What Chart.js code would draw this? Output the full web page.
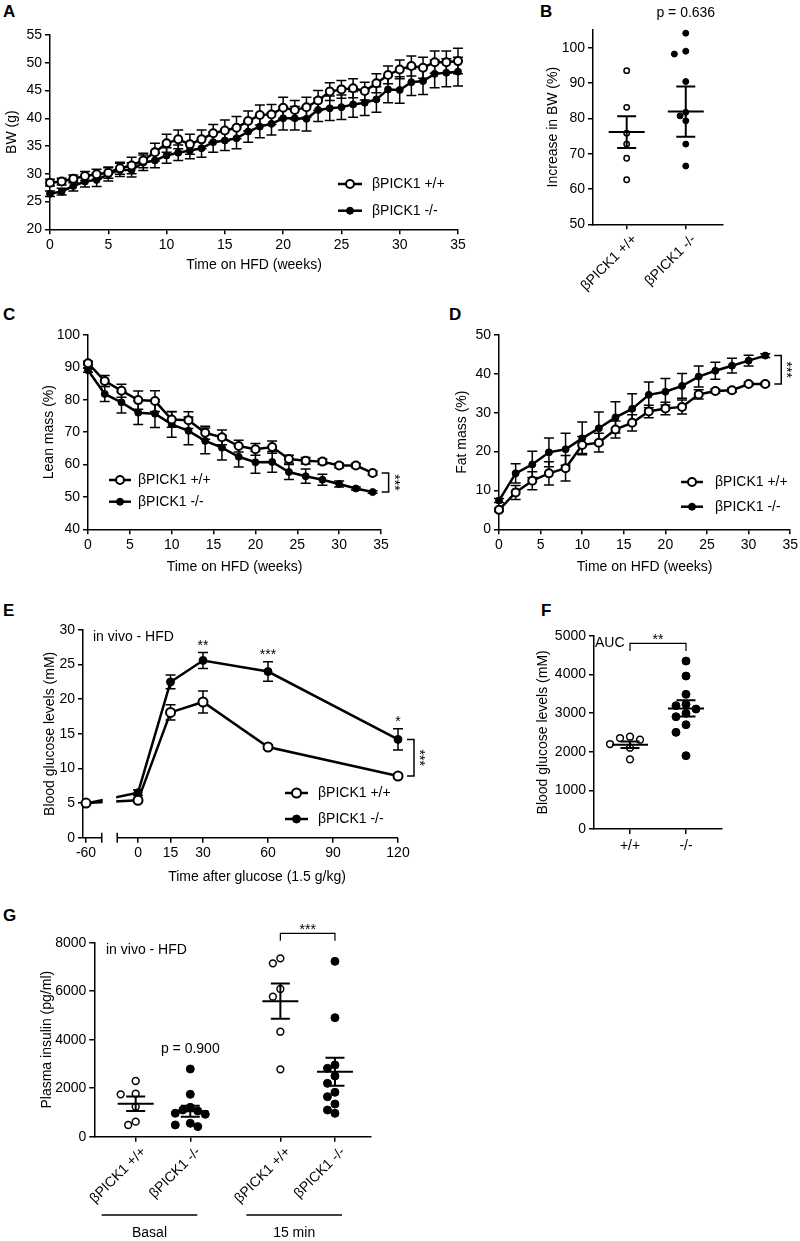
<!DOCTYPE html>
<html>
<head>
<meta charset="utf-8">
<script src="https://cdn.jsdelivr.net/npm/chart.js@4.4.1/dist/chart.umd.min.js"></script>
<style>
  body { margin: 0; width: 800px; height: 1241px; position: relative; overflow: hidden; background: #fff;
         font-family: "Liberation Sans", Arial, sans-serif; }
  canvas { position: absolute; }
  .tag { position: absolute; font-weight: bold; font-size: 17px; line-height: 1; }
</style>
</head>
<body>
<div class="tag" style="left:3px;top:3px">A</div>
<div class="tag" style="left:540px;top:3px">B</div>
<div class="tag" style="left:3px;top:306px">C</div>
<div class="tag" style="left:449px;top:306px">D</div>
<div class="tag" style="left:3px;top:602px">E</div>
<div class="tag" style="left:541px;top:602px">F</div>
<div class="tag" style="left:3px;top:907px">G</div>
<script>
/* ---------- data ---------- */
const WT = "βPICK1 +/+";
const KO = "βPICK1 -/-";

// A: body weight
const weeksA = [0,1,2,3,4,5,6,7,8,9,10,11,12,13,14,15,16,17,18,19,20,21,22,23,24,25,26,27,28,29,30,31,32,33,34,35];
const bwWT = [28.4,28.6,29.1,29.6,29.9,30.2,31.0,31.5,32.4,33.9,35.5,36.2,35.3,36.2,37.3,37.8,38.3,39.5,40.6,40.7,41.9,41.5,42.0,43.2,44.8,45.2,45.4,44.9,46.3,47.8,48.8,49.4,49.1,50.1,50.1,50.3];
const bwWTsem = [0.6,0.6,0.7,0.8,0.9,1.0,1.1,1.5,1.3,1.6,1.6,1.7,1.8,1.7,1.6,1.9,2.0,1.8,1.8,1.8,1.9,1.7,1.8,1.8,1.6,1.6,1.7,1.6,1.7,1.6,1.7,1.8,1.9,2.0,2.0,2.3];
const bwKO = [26.4,26.8,27.8,28.6,28.9,29.9,30.7,30.7,32.0,32.4,33.3,33.8,34.2,34.6,35.7,36.0,36.4,37.6,38.5,39.0,40.0,40.0,39.9,41.5,41.8,42.0,42.5,42.8,43.4,45.2,45.1,46.5,46.7,48.0,48.2,48.4];
const bwKOsem = [0.5,0.6,0.9,1.0,1.2,1.2,1.2,1.3,1.4,1.3,1.4,1.4,1.5,1.6,1.8,1.8,1.9,1.9,2.0,2.0,2.1,2.1,2.2,2.1,2.2,2.2,2.3,2.3,2.3,2.4,2.4,2.4,2.4,2.5,2.5,2.6];
const ticksA_x = [0,5,10,15,20,25,30,35];
const ticksA_y = [20,25,30,35,40,45,50,55];

// B: increase in BW (dots, then mean and SEM as drawn)
const incWT = [93.5,83.1,75.8,72.7,68.7,62.6];
const incKO = [104.1,99.0,98.2,90.4,81.7,80.7,79.3,72.7,66.5];
const incMean = [76.1,81.9];
const incSem = [4.5,7.1];
const ticksB_y = [50,60,70,80,90,100];

// C: lean mass
const weeksC = [0,2,4,6,8,10,12,14,16,18,20,22,24,26,28,30,32,34];
const leanWT = [91.3,85.8,82.8,79.9,79.6,73.9,73.7,69.8,68.4,65.7,64.7,65.4,61.7,61.2,60.9,59.7,59.7,57.4];
const leanWTsem = [0.6,1.7,2.0,2.8,3.2,2.4,2.6,2.0,2.3,1.8,1.8,1.9,1.2,1.0,0.8,0.7,0.6,0.6];
const leanKO = [89.1,81.8,79.2,76.0,75.7,72.4,70.4,67.3,65.2,62.4,60.7,60.8,57.7,56.4,55.3,54.0,52.6,51.5];
const leanKOsem = [0.6,2.3,3.3,3.6,4.3,4.0,4.3,4.0,3.8,3.2,3.4,3.2,2.3,2.2,1.7,0.9,0.5,0.4];
const ticksC_y = [40,50,60,70,80,90,100];

// D: fat mass
const weeksD = [0,2,4,6,8,10,12,14,16,18,20,22,24,26,28,30,32];
const fatWT = [5.0,9.5,12.5,14.4,15.7,21.7,22.3,25.7,27.4,30.3,31.1,31.5,34.7,35.6,35.8,37.4,37.4];
const fatWTsem = [0.4,1.8,2.3,3.0,3.3,2.2,2.4,2.2,2.1,1.6,1.6,1.8,1.2,0.5,0.5,0.4,0.4];
const fatKO = [7.4,14.4,16.7,19.8,20.6,23.4,26.0,28.8,31.0,34.6,35.4,36.9,39.3,40.8,42.1,43.4,44.7];
const fatKOsem = [0.5,2.5,3.4,3.7,4.1,4.2,4.2,4.0,3.9,3.3,3.4,3.2,2.7,2.2,1.9,1.4,0.5];
const ticksD_y = [0,10,20,30,40,50];

// E: glucose tolerance
const timesE = [-60,0,15,30,60,120];
const gluWT = [5.0,5.4,18.1,19.6,13.1,8.9];
const gluWTsem = [0.2,0.3,1.1,1.6,0.3,0.3];
const gluKO = [4.95,6.5,22.5,25.6,24.0,14.2];
const gluKOsem = [0.2,0.4,1.0,1.15,1.4,1.55];
const starsE = ["","","","**","***","*"];
const ticksE_x = [-60,0,15,30,60,90,120];
const ticksE_y = [0,5,10,15,20,25,30];

// F: AUC
const aucWT = [2387,2353,2310,2198,2103,1802];
const aucKO = [4344,3957,3483,3224,3189,3103,2992,2904,2697,2500,1896];
const aucMean = [2180,3120];
const aucSem = [85,210];
const labelsF = ["+/+","-/-"];
const ticksF_y = [0,1000,2000,3000,4000,5000];

// G: plasma insulin
const insBasalWT = [2297,1773,1748,1237,619,482];
const insBasalKO = [2792,1748,1212,1103,1061,966,925,553,485,416];
const ins15WT = [7354,7148,6090,5773,4330,2778];
const ins15KO = [7231,4907,2957,2820,2503,2200,1831,1650,1348,1100,965];
const insMean = [1361,1050,5590,2680];
const insSem = [300,230,730,575];
const labelsG = [WT, KO, WT, KO];
const groupsG = ["Basal","15 min"];
const ticksG_y = [0,2000,4000,6000,8000];

/* ---------- layout (page px) ---------- */
const FONT = '"Liberation Sans", Arial, sans-serif';
const F14 = { family: FONT, size: 14 };
const BOX = {
  A: [0, 0, 480, 290], B: [540, 0, 260, 300], C: [0, 295, 420, 295], D: [400, 295, 400, 295],
  E: [0, 595, 470, 300], F: [530, 595, 270, 280], G: [0, 900, 560, 341]
};
const AREA = {
  A: [50, 35, 458, 229.3], B: [593, 30, 723, 224.3], C: [88, 335, 381, 529.3], D: [499, 335, 792, 529.3],
  E: [83, 630, 398, 837.7], F: [594, 635.7, 722, 829], G: [94.3, 942.7, 371, 1136.7]
};
const E_SHIFT = 36;            // -60 min drawn closer to 0 (broken axis)
const E_BREAK = [-16.75, -9.6];
const ex = t => (t < -10 ? t + E_SHIFT : t);
const GROUP_GAP = 0.65;

Chart.defaults.font.family = FONT;
Chart.defaults.font.size = 14;
Chart.defaults.color = "#000";

/* error bars from dataset.errors */
Chart.register({
  id: "errorBars",
  beforeDatasetsDraw(chart) {
    const ctx = chart.ctx, ys = chart.scales.y;
    chart.data.datasets.forEach((ds, di) => {
      if (!ds.errors) return;
      const meta = chart.getDatasetMeta(di);
      ctx.save();
      ctx.strokeStyle = "#000";
      ctx.lineWidth = 1.5;
      meta.data.forEach((pt, i) => {
        const v = ds.data[i].y, e = ds.errors[i];
        if (!e) return;
        const t = ys.getPixelForValue(v + e), b = ys.getPixelForValue(v - e);
        ctx.beginPath();
        ctx.moveTo(pt.x, t); ctx.lineTo(pt.x, b);
        ctx.moveTo(pt.x - 5, t); ctx.lineTo(pt.x + 5, t);
        ctx.moveTo(pt.x - 5, b); ctx.lineTo(pt.x + 5, b);
        ctx.stroke();
      });
      ctx.restore();
    });
  }
});

/* mean +/- SEM for dot plots */
Chart.register({
  id: "meanSem",
  afterDatasetsDraw(chart) {
    const ctx = chart.ctx, xs = chart.scales.x, ys = chart.scales.y;
    chart.data.datasets.forEach(ds => {
      if (ds.center === undefined) return;
      const x = xs.getPixelForValue(ds.center);
      const ym = ys.getPixelForValue(ds.mean);
      const yt = ys.getPixelForValue(ds.mean + ds.sem), yb = ys.getPixelForValue(ds.mean - ds.sem);
      ctx.save();
      ctx.strokeStyle = "#000";
      ctx.lineWidth = 2;
      ctx.beginPath();
      ctx.moveTo(x - 18, ym); ctx.lineTo(x + 18, ym);
      ctx.moveTo(x, yt); ctx.lineTo(x, yb);
      ctx.moveTo(x - 9.5, yt); ctx.lineTo(x + 9.5, yt);
      ctx.moveTo(x - 9.5, yb); ctx.lineTo(x + 9.5, yb);
      ctx.stroke();
      ctx.restore();
    });
  }
});

/* simple beeswarm: offsets in px, returned in axis units */
function swarm(vals, center, pxX, pxY, step, diam) {
  const placed = [], out = [];
  vals.map((v, i) => i).sort((a, b) => vals[b] - vals[a]).forEach(i => {
    const v = vals[i];
    for (let k = 0; k < 30; k++) {
      const off = Math.ceil(k / 2) * step * (k % 2 ? -1 : 1);
      const hit = placed.some(p => Math.hypot(p.off - off, (p.v - v) * pxY) < diam);
      if (!hit || k === 29) {
        placed.push({ v, off });
        out[i] = { x: center + off / pxX, y: v };
        break;
      }
    }
  });
  return out;
}

function lineSet(label, xs, ys, errs, open, r) {
  return {
    label, errors: errs, clip: false, tension: 0,
    data: xs.map((x, i) => ({ x, y: ys[i] })),
    borderColor: "#000", borderWidth: 2.5,
    pointRadius: r, pointHoverRadius: r,
    pointBackgroundColor: open ? "#fff" : "#000",
    pointBorderColor: "#000", pointBorderWidth: open ? 2 : 1
  };
}

function dotSet(key, vals, center, mean, sem, open, r, step, diam, s) {
  const area = AREA[key];
  const pxX = (area[2] - area[0]) / (s.xmax - s.xmin);
  const pxY = (area[3] - area[1]) / (s.ymax - s.ymin);
  return {
    data: swarm(vals, center, pxX, pxY, step, diam), center, mean, sem, clip: false,
    pointRadius: r, pointHoverRadius: r,
    pointBackgroundColor: open ? "#fff" : "#000",
    pointBorderColor: "#000", pointBorderWidth: open ? 1.5 : 1
  };
}

function frame(box, area, s) {
  const half = 14 * 1.2 / 2;
  const rot = s.xrot || 0;
  return {
    responsive: false,
    animation: false,
    events: [],
    layout: { padding: { left: 0, top: area[1] - box[1], right: box[0] + box[2] - area[2], bottom: 0 } },
    plugins: { legend: { display: false }, tooltip: { enabled: false } },
    scales: {
      x: {
        type: "linear", min: s.xmin, max: s.xmax,
        afterBuildTicks: sc => { sc.ticks = s.xticks.map(v => ({ value: v })); },
        afterFit: sc => { sc.height = box[1] + box[3] - area[3]; },
        border: { display: s.xborder !== false, color: "#000", width: 1.5 },
        grid: { drawOnChartArea: false, color: "#000", lineWidth: 1.5, tickLength: 5 },
        ticks: { color: "#000", font: F14, autoSkip: false, minRotation: rot, maxRotation: rot,
                 padding: s.xpad === undefined ? 2 : s.xpad, labelOffset: s.xshift || 0,
                 callback: s.xfmt || (v => String(v)) },
        title: s.xtitle
          ? { display: true, text: s.xtitle, color: "#000", font: F14,
              padding: { top: 0, bottom: box[1] + box[3] - s.xtitleY - half } }
          : { display: false }
      },
      y: {
        type: "linear", min: s.ymin, max: s.ymax,
        afterBuildTicks: sc => { sc.ticks = s.yticks.map(v => ({ value: v })); },
        afterFit: sc => { sc.width = area[0] - box[0]; },
        border: { color: "#000", width: 1.5 },
        grid: { drawOnChartArea: false, color: "#000", lineWidth: 1.5, tickLength: 5 },
        ticks: { color: "#000", font: F14, padding: 3, callback: v => String(v) },
        title: { display: true, text: s.ytitle, color: "#000", font: F14,
                 padding: { top: s.ytitleX - box[0] - half, bottom: 0 } }
      }
    }
  };
}

function makeChart(key, type, datasets, s, plugins) {
  const box = BOX[key], area = AREA[key];
  const cv = document.createElement("canvas");
  cv.width = box[2]; cv.height = box[3];
  cv.style.left = box[0] + "px"; cv.style.top = box[1] + "px";
  cv.style.width = box[2] + "px"; cv.style.height = box[3] + "px";
  document.body.appendChild(cv);
  return new Chart(cv, { type, data: { datasets }, options: frame(box, area, s), plugins: plugins || [] });
}

/* legend with line + marker */
function keyPlugin(key, x, rows, len, gap) {
  const box = BOX[key];
  return {
    id: "key" + key,
    afterDraw(chart) {
      const ctx = chart.ctx;
      chart.data.datasets.forEach((ds, i) => {
        const lx = x - box[0], ly = rows[i] - box[1];
        ctx.save();
        ctx.strokeStyle = "#000";
        ctx.lineWidth = ds.borderWidth;
        ctx.beginPath(); ctx.moveTo(lx, ly); ctx.lineTo(lx + len, ly); ctx.stroke();
        ctx.beginPath(); ctx.arc(lx + len / 2, ly, ds.pointRadius, 0, Math.PI * 2);
        ctx.fillStyle = ds.pointBackgroundColor; ctx.fill();
        ctx.lineWidth = ds.pointBorderWidth; ctx.stroke();
        ctx.fillStyle = "#000";
        ctx.font = "14px " + FONT;
        ctx.textBaseline = "middle";
        ctx.fillText(ds.label, lx + gap, ly);
        ctx.restore();
      });
    }
  };
}

/* free text, page coordinates */
function notesPlugin(key, items) {
  const box = BOX[key];
  return {
    id: "notes" + key,
    afterDraw(chart) {
      const ctx = chart.ctx;
      items.forEach(n => {
        ctx.save();
        ctx.font = "14px " + FONT;
        ctx.fillStyle = "#000";
        ctx.textAlign = n.align || "left";
        ctx.textBaseline = "middle";
        ctx.fillText(n.t, n.x - box[0], n.y - box[1]);
        ctx.restore();
      });
    }
  };
}

function sideBracket(ctx, x, y0, y1, text) {
  ctx.save();
  ctx.strokeStyle = "#000";
  ctx.lineWidth = 1.5;
  ctx.beginPath();
  ctx.moveTo(x - 7, y0); ctx.lineTo(x, y0); ctx.lineTo(x, y1); ctx.lineTo(x - 7, y1);
  ctx.stroke();
  ctx.translate(x + 5, (y0 + y1) / 2);
  ctx.rotate(Math.PI / 2);
  ctx.font = "14px " + FONT;
  ctx.fillStyle = "#000";
  ctx.textAlign = "center";
  ctx.textBaseline = "middle";
  ctx.fillText(text, 0, 0);
  ctx.restore();
}

function topBracket(ctx, x0, x1, y, drop, text) {
  ctx.save();
  ctx.strokeStyle = "#000";
  ctx.lineWidth = 1.2;
  ctx.beginPath();
  ctx.moveTo(x0, y + drop); ctx.lineTo(x0, y); ctx.lineTo(x1, y); ctx.lineTo(x1, y + drop);
  ctx.stroke();
  ctx.font = "14px " + FONT;
  ctx.fillStyle = "#000";
  ctx.textAlign = "center";
  ctx.textBaseline = "middle";
  ctx.fillText(text, (x0 + x1) / 2, y - 3);
  ctx.restore();
}

function lastBracket(text) {
  return {
    id: "lastBracket",
    afterDatasetsDraw(chart) {
      const a = chart.getDatasetMeta(0).data, b = chart.getDatasetMeta(1).data;
      const pa = a[a.length - 1], pb = b[b.length - 1];
      const y0 = Math.min(pa.y, pb.y), y1 = Math.max(pa.y, pb.y);
      sideBracket(chart.ctx, Math.max(pa.x, pb.x) + 16, y0, y1, text);
    }
  };
}

/* ---------- A ---------- */
makeChart("A", "line", [
  lineSet(WT, weeksA, bwWT, bwWTsem, true, 4),
  lineSet(KO, weeksA, bwKO, bwKOsem, false, 3.5)
], {
  xmin: 0, xmax: 35, xticks: ticksA_x, ymin: 20, ymax: 55, yticks: ticksA_y,
  xtitle: "Time on HFD (weeks)", xtitleY: 265, ytitle: "BW (g)", ytitleX: 12
}, [keyPlugin("A", 338, [184, 210.7], 24, 34)]);

/* ---------- B ---------- */
const sB = { xmin: -0.57, xmax: 1.63, ymin: 50, ymax: 105 };
makeChart("B", "scatter", [
  dotSet("B", incWT, 0, incMean[0], incSem[0], true, 2.7, 5.7, 6.5, sB),
  dotSet("B", incKO, 1, incMean[1], incSem[1], false, 3, 5.7, 6.5, sB)
], Object.assign({}, sB, {
  xticks: [0, 1], xfmt: (v, i) => [WT, KO][i], xrot: 45, xshift: 8,
  yticks: ticksB_y, ytitle: "Increase in BW (%)", ytitleX: 553
}), [{
  id: "bNote",
  afterDraw(chart) {
    const ctx = chart.ctx;
    ctx.save();
    ctx.font = "14px " + FONT; ctx.fillStyle = "#000";
    ctx.textAlign = "center"; ctx.textBaseline = "middle";
    ctx.fillText("p = 0.636", chart.scales.x.getPixelForValue(1), 13);
    ctx.restore();
  }
}]);

/* ---------- C ---------- */
makeChart("C", "line", [
  lineSet(WT, weeksC, leanWT, leanWTsem, true, 4),
  lineSet(KO, weeksC, leanKO, leanKOsem, false, 3.5)
], {
  xmin: 0, xmax: 35, xticks: ticksA_x, ymin: 40, ymax: 100, yticks: ticksC_y,
  xtitle: "Time on HFD (weeks)", xtitleY: 566.7, ytitle: "Lean mass (%)", ytitleX: 49.3
}, [keyPlugin("C", 109, [480, 501.7], 22, 29), lastBracket("***")]);

/* ---------- D ---------- */
makeChart("D", "line", [
  lineSet(WT, weeksD, fatWT, fatWTsem, true, 4),
  lineSet(KO, weeksD, fatKO, fatKOsem, false, 3.5)
], {
  xmin: 0, xmax: 35, xticks: ticksA_x, ymin: 0, ymax: 50, yticks: ticksD_y,
  xtitle: "Time on HFD (weeks)", xtitleY: 566.7, ytitle: "Fat mass (%)", ytitleX: 461.7
}, [keyPlugin("D", 681, [482, 506.7], 22, 34), lastBracket("***")]);

/* ---------- E ---------- */
makeChart("E", "line", [
  lineSet(WT, timesE.map(ex), gluWT, gluWTsem, true, 4.5),
  lineSet(KO, timesE.map(ex), gluKO, gluKOsem, false, 4)
], {
  xmin: -25.4, xmax: 120,
  xticks: ticksE_x.map(ex), xfmt: (v, i) => String(ticksE_x[i]), xborder: false,
  ymin: 0, ymax: 30, yticks: ticksE_y,
  ytitle: "Blood glucose levels (mM)", ytitleX: 50
}, [
  keyPlugin("E", 285, [793, 819], 23, 33),
  notesPlugin("E", [
    { t: "in vivo - HFD", x: 93, y: 636.7 },
    { t: "Time after glucose (1.5 g/kg)", x: 257, y: 877, align: "center" }
  ]),
  lastBracket("***"),
  {
    id: "eBreak",
    afterDatasetsDraw(chart) {
      const { ctx, chartArea: a, scales: { x, y } } = chart;
      const b0 = x.getPixelForValue(E_BREAK[0]), b1 = x.getPixelForValue(E_BREAK[1]);
      ctx.save();
      ctx.fillStyle = "#fff";
      ctx.fillRect(b0 + 1, a.top, b1 - b0 - 2, a.bottom - a.top - 4);
      ctx.strokeStyle = "#000";
      ctx.lineWidth = 1.5;
      ctx.beginPath();
      ctx.moveTo(a.left, a.bottom); ctx.lineTo(b0, a.bottom);
      ctx.moveTo(b1, a.bottom); ctx.lineTo(a.right, a.bottom);
      ctx.moveTo(b0, a.bottom - 5); ctx.lineTo(b0, a.bottom + 5);
      ctx.moveTo(b1, a.bottom - 5); ctx.lineTo(b1, a.bottom + 5);
      ctx.stroke();
      // significance stars above the KO points
      const ds = chart.data.datasets[1], meta = chart.getDatasetMeta(1);
      ctx.font = "14px " + FONT;
      ctx.fillStyle = "#000";
      ctx.textAlign = "center";
      ctx.textBaseline = "alphabetic";
      starsE.forEach((s, i) => {
        if (!s) return;
        const top = y.getPixelForValue(ds.data[i].y + ds.errors[i]);
        ctx.fillText(s, meta.data[i].x, top - 3);
      });
      ctx.restore();
    }
  }
]);

/* ---------- F ---------- */
const sF = { xmin: -0.643, xmax: 1.643, ymin: 0, ymax: 5000 };
makeChart("F", "scatter", [
  dotSet("F", aucWT, 0, aucMean[0], aucSem[0], true, 3.4, 10, 8.5, sF),
  dotSet("F", aucKO, 1, aucMean[1], aucSem[1], false, 4, 10, 8.5, sF)
], Object.assign({}, sF, {
  xticks: [0, 1], xfmt: (v, i) => labelsF[i], xpad: 4,
  yticks: ticksF_y, ytitle: "Blood glucose levels (mM)", ytitleX: 543
}), [
  notesPlugin("F", [{ t: "AUC", x: 595, y: 643 }]),
  {
    id: "fBracket",
    afterDraw(chart) {
      const x = chart.scales.x;
      topBracket(chart.ctx, x.getPixelForValue(0), x.getPixelForValue(1), 643.3 - BOX.F[1], 7.7, "**");
    }
  }
]);

/* ---------- G ---------- */
const posG = labelsG.map((l, i) => i + Math.floor(i / 2) * GROUP_GAP);
const sG = { xmin: -0.758, xmax: 4.31, ymin: 0, ymax: 8000 };
makeChart("G", "scatter", [
  dotSet("G", insBasalWT, posG[0], insMean[0], insSem[0], true, 3.4, 7.5, 7.8, sG),
  dotSet("G", insBasalKO, posG[1], insMean[1], insSem[1], false, 4, 7.5, 7.8, sG),
  dotSet("G", ins15WT, posG[2], insMean[2], insSem[2], true, 3.4, 7.5, 7.8, sG),
  dotSet("G", ins15KO, posG[3], insMean[3], insSem[3], false, 4, 7.5, 7.8, sG)
], Object.assign({}, sG, {
  xticks: posG, xfmt: (v, i) => labelsG[i], xrot: 45, xshift: 8,
  yticks: ticksG_y, ytitle: "Plasma insulin (pg/ml)", ytitleX: 46.7
}), [
  notesPlugin("G", [{ t: "in vivo - HFD", x: 106, y: 950 }]),
  {
    id: "gDecor",
    afterDraw(chart) {
      const ctx = chart.ctx, x = chart.scales.x, ys = chart.scales.y;
      const oy = BOX.G[1];
      topBracket(ctx, x.getPixelForValue(posG[2]), x.getPixelForValue(posG[3]), 933.3 - oy, 7.4, "***");
      // p value above basal KO
      const top = ys.getPixelForValue(Math.max(...insBasalKO));
      ctx.save();
      ctx.font = "14px " + FONT;
      ctx.fillStyle = "#000";
      ctx.textAlign = "center";
      ctx.textBaseline = "middle";
      ctx.fillText("p = 0.900", x.getPixelForValue(posG[1]), top - 20);
      // group lines
      ctx.strokeStyle = "#000";
      ctx.lineWidth = 1.5;
      groupsG.forEach((g, k) => {
        const x0 = x.getPixelForValue(posG[2 * k]) - 34, x1 = x.getPixelForValue(posG[2 * k + 1]) + 7;
        ctx.beginPath(); ctx.moveTo(x0, 1215 - oy); ctx.lineTo(x1, 1215 - oy); ctx.stroke();
        ctx.fillText(g, (x0 + x1) / 2, 1233 - oy);
      });
      ctx.restore();
    }
  }
]);
</script>
</body>
</html>
